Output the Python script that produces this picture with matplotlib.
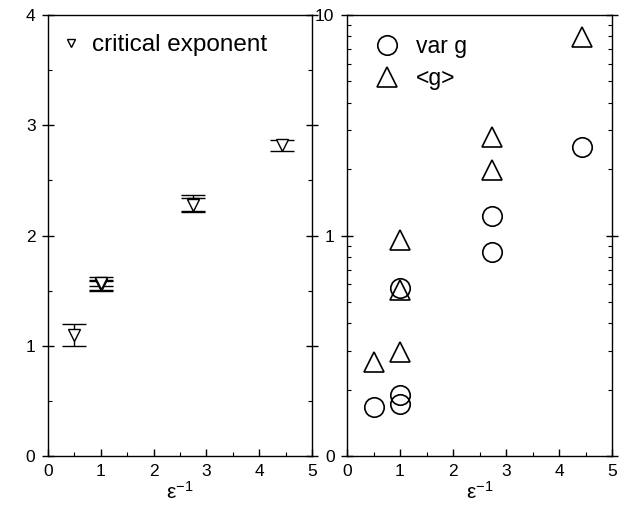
import numpy as np
import matplotlib.pyplot as plt
from matplotlib.ticker import MultipleLocator, FixedLocator, FixedFormatter, LogLocator, NullFormatter

plt.rcParams['font.family'] = ['Liberation Sans', 'DejaVu Sans']
plt.rcParams['mathtext.fontset'] = 'custom'
plt.rcParams['mathtext.rm'] = 'Liberation Sans'
plt.rcParams['mathtext.it'] = 'Liberation Sans'

# critical exponent (left panel)
x_crit = [0.5, 1.0, 1.0, 1.0, 2.74, 2.74, 4.44]
y_crit = [1.10, 1.56, 1.55, 1.57, 2.29, 2.28, 2.82]
e_crit = [0.10, 0.065, 0.04, 0.03, 0.08, 0.06, 0.05]

# right panel (log scale)
x_var = [0.5, 1.0, 1.0, 1.0, 2.74, 2.74, 4.43]
y_var = [0.167, 0.189, 0.173, 0.576, 1.23, 0.84, 2.53]
x_mean = [0.5, 1.0, 1.0, 1.0, 2.74, 2.74, 4.43]
y_mean = [0.267, 0.297, 0.566, 0.95, 1.98, 2.79, 7.92]

W, H = 627, 511
fig = plt.figure(figsize=(W/100, H/100), dpi=100)
ax1 = fig.add_axes([48/W, (H-456)/H, 264/W, 441/H])
ax2 = fig.add_axes([347/W, (H-456)/H, 265/W, 441/H])

# left
ax1.errorbar(x_crit, y_crit, yerr=e_crit, fmt='none', ecolor='black',
             elinewidth=1, capsize=8.3, capthick=1)
ax1.plot(x_crit, y_crit, 'v', ms=9, mfc='white', mec='black', mew=1,
         ls='none', label='critical exponent')
ax1.set_xlim(0, 5)
ax1.set_ylim(0, 4)
ax1.xaxis.set_major_locator(MultipleLocator(1))
ax1.xaxis.set_minor_locator(MultipleLocator(0.5))
ax1.yaxis.set_major_locator(MultipleLocator(1))
ax1.yaxis.set_minor_locator(MultipleLocator(0.5))
ax1.legend(loc='upper left', frameon=False, fontsize=17.5, markerscale=0.65,
           handlelength=0.95, handletextpad=0.4, borderaxespad=0.0,
           bbox_to_anchor=(0.005, 0.978))

# right
ax2.plot(x_var, y_var, 'o', ms=14, mfc='none', mec='black', mew=1.2,
         ls='none', label='var g')
ax2.plot(x_mean, y_mean, '^', ms=14, mfc='none', mec='black', mew=1.2,
         ls='none', label='<g>')
ax2.set_yscale('log')
ax2.set_xlim(0, 5)
ax2.set_ylim(0.1, 10)
ax2.xaxis.set_major_locator(MultipleLocator(1))
ax2.xaxis.set_minor_locator(MultipleLocator(0.5))
ax2.yaxis.set_major_locator(FixedLocator([0.1, 1, 10]))
ax2.yaxis.set_major_formatter(FixedFormatter(['0', '1', '10']))
ax2.yaxis.set_minor_locator(LogLocator(base=10, subs=np.arange(2, 10)))
ax2.yaxis.set_minor_formatter(NullFormatter())
ax2.legend(loc='upper left', frameon=False, fontsize=16.5,
           handlelength=1.3, handletextpad=0.6, borderaxespad=0.0,
           labelspacing=0.38, bbox_to_anchor=(0.06, 0.975))

for ax in (ax1, ax2):
    ax.set_xlabel(r'$\mathregular{ε^{-1}}$', fontsize=15, labelpad=1)
    for s in ax.spines.values():
        s.set_linewidth(1)
    ax.tick_params(axis='both', which='major', labelsize=12.5, direction='in',
                   length=5, width=1, right=True, top=False)
    ax.tick_params(axis='both', which='minor', direction='in', length=3,
                   width=0.8, right=True, top=False)
    ax.tick_params(axis='x', which='major', pad=6)
    ax.tick_params(axis='y', which='major', direction='inout', length=8, pad=5)

plt.savefig('out.png', dpi=100)
